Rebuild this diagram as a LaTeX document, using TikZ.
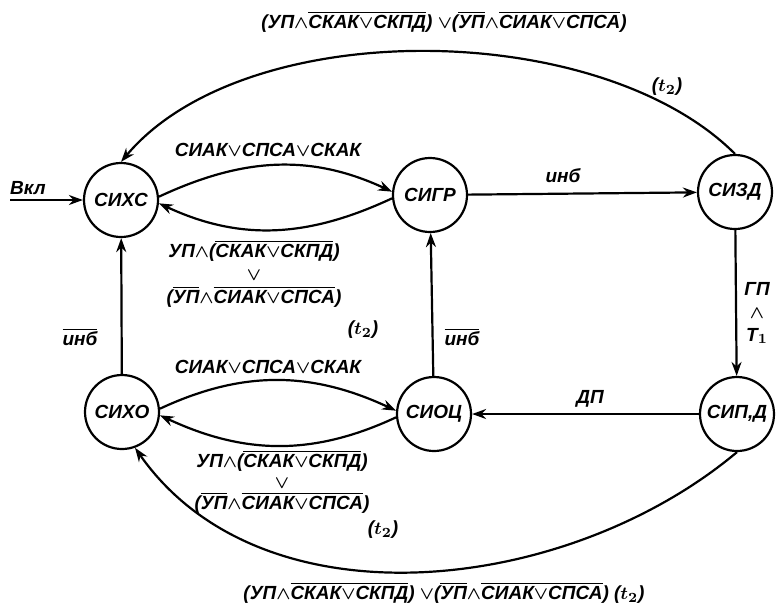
\documentclass[tikz,border=0pt]{standalone}
\usepackage{fontspec}
\setmainfont{Liberation Sans}
\usetikzlibrary{arrows.meta}

\newcommand{\ovl}[1]{$\overline{\mbox{#1}}$}
\newcommand{\kon}{$\wedge$}
\newcommand{\diz}{$\vee$}

\begin{document}
\begin{tikzpicture}[
        x=0.5pt, y=-0.5pt, % Координаты в пикселях исходной схемы
        >={Stealth[length=7pt, width=5pt]},
        cell/.style={circle, draw, line width=1.1pt, minimum size=37pt, inner sep=0pt,
            font=\fontsize{9.5}{11}\selectfont\bfseries\itshape}, % Стиль состояний
        kant/.style={align=center, inner sep=1pt,
            font=\fontsize{9.5}{11.4}\selectfont\bfseries\itshape\boldmath}, % Подписи переходов
        perehod/.style={draw, ->, line width=1.1pt},
    ]
    \useasboundingbox (0,0) rectangle (776,612);

    \node[cell] (sixs) at (121,200) {СИХС};
    \node[cell] (sigr) at (430,195) {СИГР};
    \node[cell] (sizd) at (735,192) {СИЗД};
    \node[cell] (sipd) at (737,414) {СИП,Д};
    \node[cell] (sioc) at (434,414) {СИОЦ};
    \node[cell] (sixo) at (122,412) {СИХО};
    \coordinate (vkl) at (10,200);

    \draw[perehod] (vkl) -- (sixs);
    \draw[perehod] (sixs.5) to[out=25, in=155] (sigr.175);
    \draw[perehod] (sigr.185) to[out=205, in=-25] (sixs.355);
    \draw[perehod] (sigr) -- (sizd);
    \draw[perehod] (sizd) -- (sipd);
    \draw[perehod] (sipd) -- (sioc);
    \draw[perehod] (sioc) -- (sigr);
    \draw[perehod] (sixo) -- (sixs);
    \draw[perehod] (sixo.5) to[out=25, in=155] (sioc.175);
    \draw[perehod] (sioc.185) to[out=205, in=-25] (sixo.355);
    \draw[perehod] (sizd.north) to[out=135, in=50, looseness=0.8] (sixs.north);
    \draw[perehod] (sipd.south) to[out=220, in=-55, looseness=0.94] (sixo.-70);

    \node[kant] (lvkl) at (28,188) {Вкл};
    \node[kant] (lxsgr) at (268,150) {СИАК\diz СПСА\diz СКАК};
    \node[kant] (lgrxs) at (254,274) {УП\kon(\ovl{СКАК\diz СКПД})\\ \diz \\ (\ovl{УП}\kon\ovl{СИАК\diz СПСА})};
    \node[kant] (tgrxs) at (363,330) {($t_2$)};
    \node[kant] (lgrzd) at (563,176) {инб};
    \node[kant] (lzdpd) at (757,313) {ГП\\ \kon\\ T$_1$};
    \node[kant] (lpdoc) at (590,399) {ДП};
    \node[kant] (locgr) at (462,337) {\ovl{инб}};
    \node[kant] (lxoxs) at (80,337) {\ovl{инб}};
    \node[kant] (lxooc) at (268,367) {СИАК\diz СПСА\diz СКАК};
    \node[kant] (locxo) at (282,482) {УП\kon(\ovl{СКАК\diz СКПД})\\[-1pt] \diz \\[-1pt] (\ovl{УП}\kon\ovl{СИАК\diz СПСА})};
    \node[kant] (tocxo) at (383,530) {($t_2$)};
    \node[kant] (lzdxs) at (444,22) {(УП\kon\ovl{СКАК\diz СКПД}) \diz(\ovl{УП}\kon\ovl{СИАК\diz СПСА})};
    \node[kant] (tzdxs) at (667,87) {($t_2$)};
    \node[kant] (lpdxo) at (444,593) {(УП\kon\ovl{СКАК\diz СКПД}) \diz(\ovl{УП}\kon\ovl{СИАК\diz СПСА}) ($t_2$)};
\end{tikzpicture}
\end{document}
